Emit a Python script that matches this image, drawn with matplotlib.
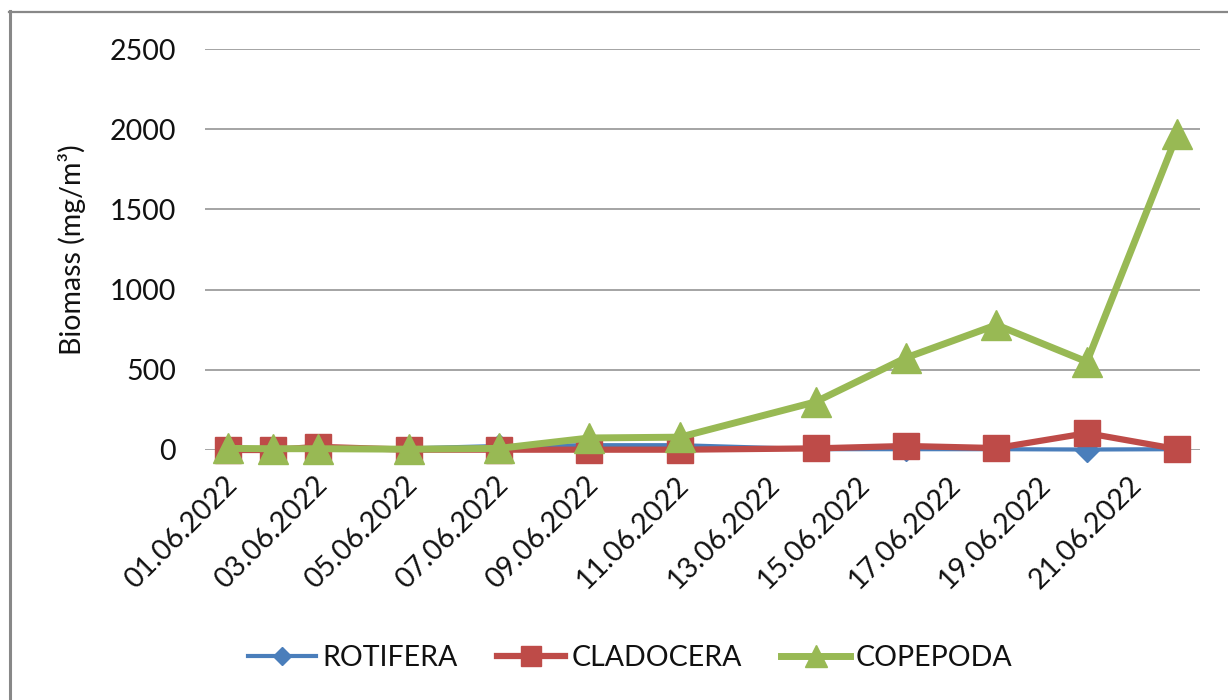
import matplotlib
matplotlib.use("Agg")
import matplotlib.pyplot as plt
import matplotlib.dates as mdates
from matplotlib.lines import Line2D
from matplotlib.transforms import ScaledTranslation
import numpy as np
import datetime as dt

plt.rcParams['font.family'] = ['Lato', 'DejaVu Sans']

dates = ["2022-06-01", "2022-06-02", "2022-06-03", "2022-06-05", "2022-06-07",
         "2022-06-09", "2022-06-11", "2022-06-14", "2022-06-16", "2022-06-18",
         "2022-06-20", "2022-06-22"]
rotifera = [2, 2, 5, 10, 25, 30, 30, 5, 5, 5, 3, 5]
cladocera = [0, 0, 20, 2, 2, 2, 2, 10, 25, 12, 105, 5]
copepoda = [10, 8, 8, 5, 10, 75, 80, 300, 575, 780, 550, 1970]

x = [dt.datetime.strptime(d, "%Y-%m-%d") for d in dates]

W, H, DPI = 1228, 700, 100
fig = plt.figure(figsize=(W / DPI, H / DPI), dpi=DPI)
fig.patch.set_facecolor('white')

ax = fig.add_axes([205 / W, 1 - 450 / H, (1200 - 205) / W, (450 - 49) / H])

FS = 20.5
TXT = '#111111'
ax.set_ylim(0, 2500)
ax.set_yticks(np.arange(0, 2501, 500))
ax.grid(axis='y', color='#8c8c8c', linewidth=1.1, zorder=0)
ax.set_axisbelow(True)

ax.plot(x, rotifera, color='#4A7EBB', lw=3.0, marker='D', ms=12,
        label='ROTIFERA', clip_on=False, zorder=3)
ax.plot(x, cladocera, color='#BE4B48', lw=4.5, marker='s', ms=19,
        label='CLADOCERA', clip_on=False, zorder=4)
ax.plot(x, copepoda, color='#98B954', lw=5.0, marker='^', ms=21,
        label='COPEPODA', clip_on=False, zorder=5)

ax.set_xlim(dt.datetime(2022, 5, 31, 12), dt.datetime(2022, 6, 22, 12))
ax.xaxis.set_major_locator(mdates.DayLocator(bymonthday=range(1, 32, 2)))
ax.xaxis.set_major_formatter(mdates.DateFormatter('%d.%m.%Y'))

for s in ax.spines.values():
    s.set_visible(False)
ax.tick_params(axis='both', length=0, labelsize=FS, colors=TXT)
ax.tick_params(axis='y', pad=21)
ax.tick_params(axis='x', pad=22)
offset = ScaledTranslation(5 / DPI, 0, fig.dpi_scale_trans)
for lab in ax.get_xticklabels():
    lab.set_rotation(45)
    lab.set_ha('right')
    lab.set_va('center')
    lab.set_rotation_mode('anchor')
    lab.set_transform(lab.get_transform() + offset)

ax.set_ylabel('Biomass (mg/m³)', fontsize=FS, color=TXT)
ax.yaxis.set_label_coords(-(205 - 86) / (1200 - 205), (450 - 250) / (450 - 49))

leg = fig.legend(loc='center', bbox_to_anchor=(630 / W, 1 - 658 / H), ncol=3,
                 frameon=False, fontsize=FS, handlelength=2.4, handletextpad=0.2,
                 columnspacing=1.4, markerscale=0.75)
for t in leg.get_texts():
    t.set_color(TXT)

# outer chart border (left and top visible)
fig.add_artist(Line2D([9.5 / W, 9.5 / W], [0, 1 - 11 / H], transform=fig.transFigure,
                      color='#888888', lw=2.2))
fig.add_artist(Line2D([8.5 / W, 1], [1 - 12 / H, 1 - 12 / H], transform=fig.transFigure,
                      color='#888888', lw=1.6))

fig.savefig('out.png', dpi=DPI, facecolor='white')
